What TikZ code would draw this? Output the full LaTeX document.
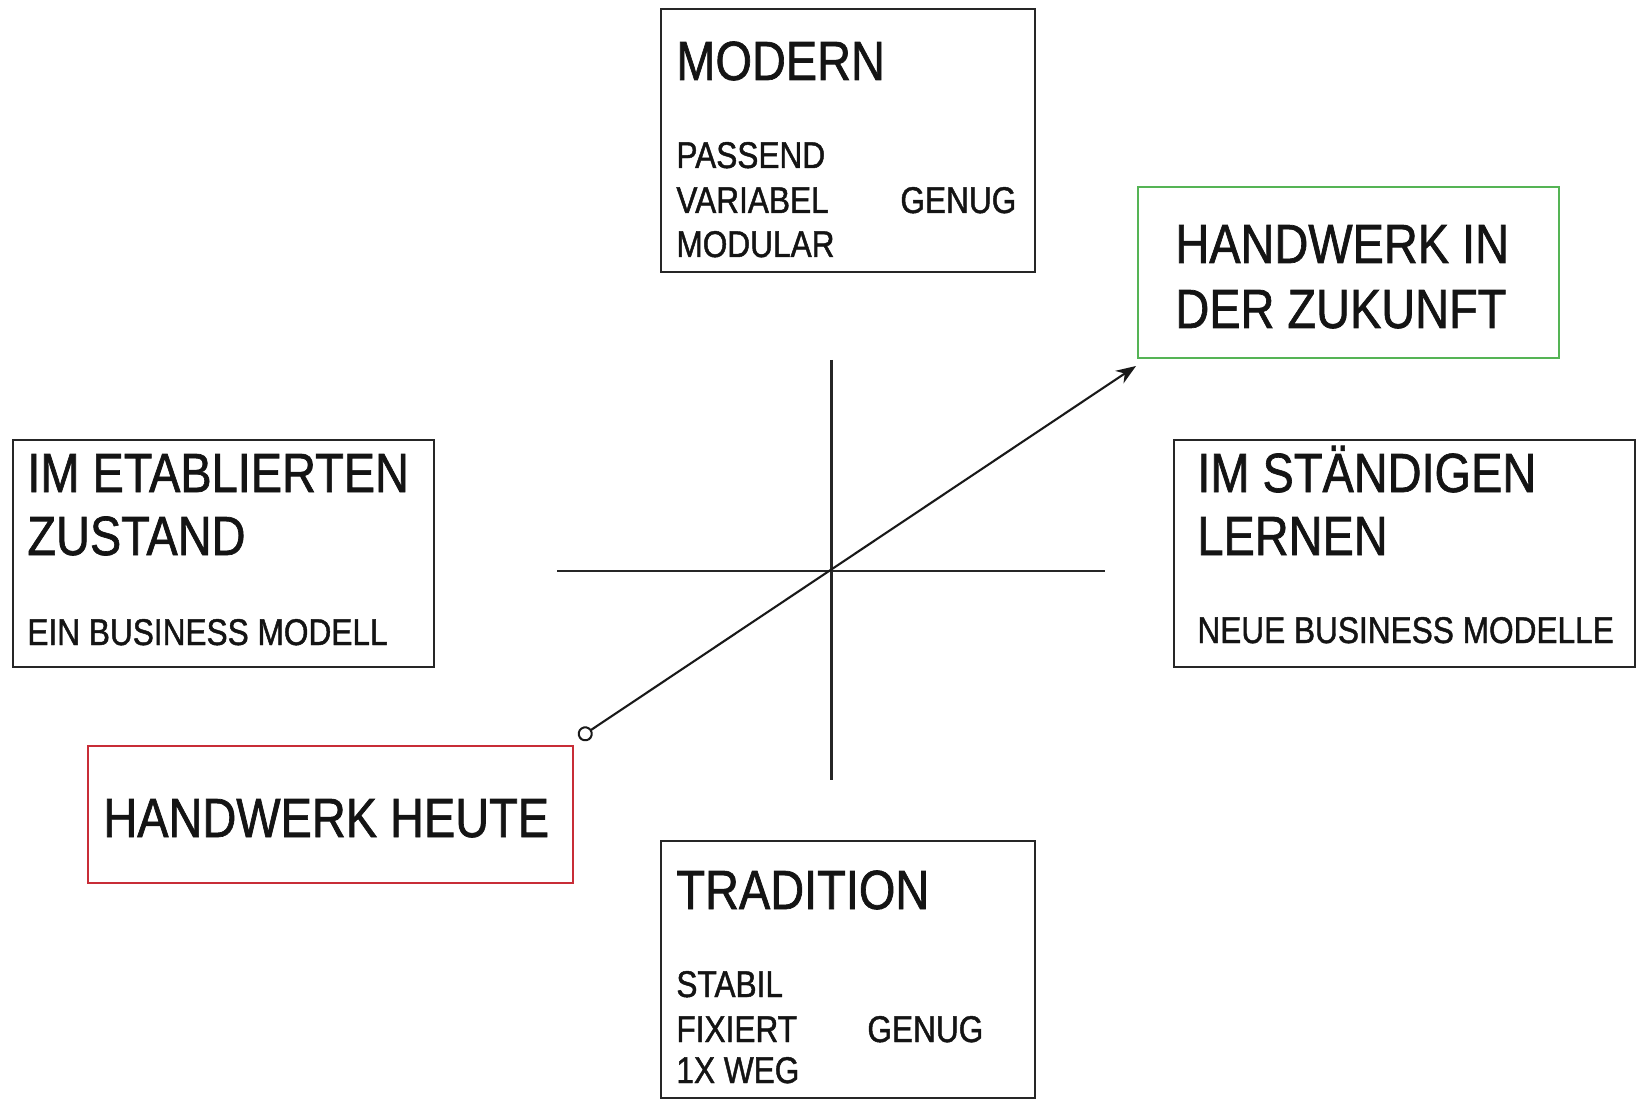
\documentclass[tikz,border=0pt]{standalone}
\usepackage{fontspec}
\setmainfont[FakeStretch=0.85,FakeBold=1.2]{Liberation Sans}
\usetikzlibrary{arrows.meta}
\definecolor{boxred}{RGB}{200,45,55}
\definecolor{boxgreen}{RGB}{85,180,85}
\tikzset{
  box/.style={draw=black!85, line width=1.1pt, inner sep=0pt, fill=none},
  big/.style={anchor=base west, inner sep=0pt, font=\fontsize{27.6pt}{32.5pt}\selectfont, text=black!92},
  small/.style={anchor=base west, inner sep=0pt, font=\fontsize{18.6pt}{22.25pt}\selectfont, text=black!92},
  axis/.style={draw=black!85, line width=1.2pt},
}
\begin{document}
\begin{tikzpicture}[x=0.5pt,y=-0.5pt]
\useasboundingbox (0,0) rectangle (1638,1101);
% boxes
\node[box, minimum width=187pt, minimum height=131.5pt] (modern) at (848,140.5) {};
\node[box, draw=boxgreen, minimum width=210.5pt, minimum height=85.5pt] (zukunft) at (1348.5,272.5) {};
\node[box, minimum width=210.5pt, minimum height=113.5pt] (etab) at (223.5,553.5) {};
\node[box, minimum width=230.5pt, minimum height=113.5pt] (staend) at (1404.5,553.5) {};
\node[box, draw=boxred, minimum width=242.5pt, minimum height=68.5pt] (heute) at (330.5,814.5) {};
\node[box, minimum width=187pt, minimum height=128.5pt] (trad) at (848,969.5) {};
% texts
\node[big] (tmodern) at (676,80) {MODERN};
\node[small] (t1) at (676,168) {PASSEND};
\node[small] (t2) at (676,213) {VARIABEL};
\node[small] (t3) at (676,257) {MODULAR};
\node[small] (t4) at (900,213) {GENUG};
\node[big] (tz1) at (1175,263) {HANDWERK IN};
\node[big] (tz2) at (1175,328) {DER ZUKUNFT};
\node[big] (te1) at (27,492) {IM ETABLIERTEN};
\node[big] (te2) at (27,555) {ZUSTAND};
\node[small] (te3) at (27,645) {EIN BUSINESS MODELL};
\node[big] (ts1) at (1197,492) {IM STÄNDIGEN};
\node[big] (ts2) at (1197,555) {LERNEN};
\node[small] (ts3) at (1197,643) {NEUE BUSINESS MODELLE};
\node[big] (th) at (103,837) {HANDWERK HEUTE};
\node[big] (tt) at (676,909) {TRADITION};
\node[small] (tt1) at (676,997) {STABIL};
\node[small] (tt2) at (676,1042) {FIXIERT};
\node[small] (tt3) at (676,1083) {1X WEG};
\node[small] (tt4) at (867,1042) {GENUG};
% axes
\coordinate (vtop) at (831.5,360);
\coordinate (vbot) at (831.5,780);
\coordinate (hleft) at (557,571);
\coordinate (hright) at (1105,571);
\draw[axis] (vtop) -- (vbot);
\draw[axis] (hleft) -- (hright);
% arrow
\coordinate (astart) at (579,738);
\coordinate (aend) at (1136,366);
\draw[line width=1.05pt, black!90, {Circle[open,length=7.5pt,width=7.5pt,line width=1pt]}-{Stealth[length=10pt,width=7.5pt]}] (astart) -- (aend);
\end{tikzpicture}
\end{document}
